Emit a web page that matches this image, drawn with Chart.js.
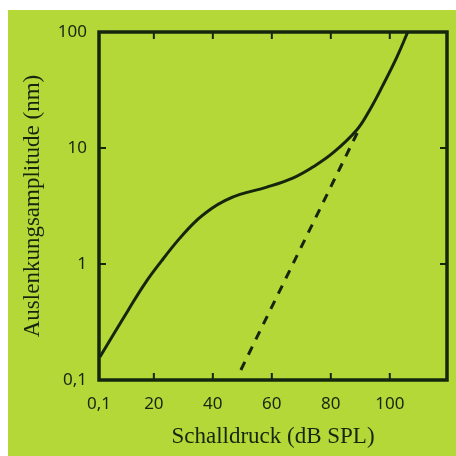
<!DOCTYPE html>
<html>
<head>
<meta charset="utf-8">
<script src="https://cdn.jsdelivr.net/npm/chart.js@4.4.0/dist/chart.umd.min.js"></script>
<style>
  html, body { margin: 0; padding: 0; background: #ffffff; }
  #wrap { width: 456px; height: 456px; position: relative; }
</style>
</head>
<body>
<div id="wrap"><canvas id="c" width="456" height="456"></canvas></div>
<script>
// --- data ---
const soundLevel = [1.7, 6.8, 11.2, 16.9, 22.7, 28.1, 33.9, 39.7, 44.1, 49.2, 58.3, 67.1, 73.9, 80.7, 88.8, 93.2, 97.6, 102.4, 106.1];
const amplitude  = [0.158, 0.259, 0.396, 0.675, 1.07, 1.59, 2.30, 3.02, 3.52, 3.98, 4.6, 5.5, 6.85, 9.06, 14.3, 21.3, 34.5, 60.8, 100];
const linearLevel = [49.5, 89.8];
const linearAmplitude = [0.122, 14.9];
const xTicks = [1.4, 20, 40, 60, 80, 100];
const xTickLabels = ['0,1', '20', '40', '60', '80', '100'];
const yTicks = [0.1, 1, 10, 100];
const yTickLabels = ['0,1', '1', '10', '100'];
const xTitle = 'Schalldruck (dB SPL)';
const yTitle = 'Auslenkungsamplitude (nm)';

const GREEN = '#b4d838';
const INK = '#15260f';

const bgPlugin = {
  id: 'bg',
  beforeDraw(chart) {
    const ctx = chart.ctx;
    ctx.save();
    ctx.fillStyle = '#ffffff';
    ctx.fillRect(0, 0, chart.width, chart.height);
    ctx.fillStyle = GREEN;
    ctx.fillRect(8, 10, chart.width - 8, chart.height - 10);
    ctx.restore();
  }
};

const framePlugin = {
  id: 'frame',
  afterDatasetsDraw(chart) {
    const ctx = chart.ctx;
    const a = chart.chartArea;
    const xs = chart.scales.x, ys = chart.scales.y;
    ctx.save();
    ctx.strokeStyle = INK;
    ctx.lineWidth = 2;
    const L = 7;
    xs.ticks.forEach((t, i) => {
      if (i === 0) return;
      const px = xs.getPixelForValue(t.value);
      ctx.beginPath();
      ctx.moveTo(px, a.bottom); ctx.lineTo(px, a.bottom - L);
      ctx.moveTo(px, a.top); ctx.lineTo(px, a.top + L);
      ctx.stroke();
    });
    ys.ticks.forEach((t, i) => {
      if (i === 0 || i === ys.ticks.length - 1) return;
      const py = ys.getPixelForValue(t.value);
      ctx.beginPath();
      ctx.moveTo(a.left, py); ctx.lineTo(a.left + L, py);
      ctx.moveTo(a.right, py); ctx.lineTo(a.right - L, py);
      ctx.stroke();
    });
    ctx.lineWidth = 3.5;
    ctx.strokeRect(a.left, a.top, a.right - a.left, a.bottom - a.top);
    ctx.restore();
  }
};

new Chart(document.getElementById('c'), {
  type: 'line',
  data: {
    datasets: [
      {
        data: soundLevel.map((v, i) => ({ x: v, y: amplitude[i] })),
        borderColor: INK,
        borderWidth: 3,
        pointRadius: 0,
        tension: 0.4,
        fill: false
      },
      {
        data: linearLevel.map((v, i) => ({ x: v, y: linearAmplitude[i] })),
        borderColor: INK,
        borderWidth: 3,
        borderDash: [9, 8],
        pointRadius: 0,
        fill: false
      }
    ]
  },
  options: {
    responsive: false,
    animation: false,
    devicePixelRatio: 1,
    layout: { padding: { top: 32, right: 9, left: 0, bottom: 0 } },
    plugins: { legend: { display: false }, tooltip: { enabled: false } },
    scales: {
      x: {
        type: 'linear',
        min: xTicks[0],
        max: 119.4,
        afterBuildTicks(s) { s.ticks = xTicks.map(v => ({ value: v })); },
        afterFit(s) { s.height = 76; s.paddingLeft = 0; s.paddingRight = 0; },
        grid: { display: false, drawTicks: false },
        border: { display: false },
        ticks: {
          padding: 14,
          color: INK,
          font: { family: 'Noto Sans', size: 17 },
          maxRotation: 0,
          callback: (v, i) => xTickLabels[i]
        },
        title: {
          display: true,
          text: xTitle,
          color: INK,
          font: { family: 'Liberation Serif', size: 23 },
          padding: { top: 0, bottom: 5 }
        }
      },
      y: {
        type: 'logarithmic',
        min: 0.1,
        max: 100,
        afterBuildTicks(s) { s.ticks = yTicks.map(v => ({ value: v })); },
        afterFit(s) { s.width = 99; s.paddingTop = 0; s.paddingBottom = 0; },
        grid: { display: false, drawTicks: false },
        border: { display: false },
        ticks: {
          padding: 12,
          color: INK,
          font: { family: 'Noto Sans', size: 17 },
          callback: (v, i) => yTickLabels[i]
        },
        title: {
          display: true,
          text: yTitle,
          color: INK,
          font: { family: 'Liberation Serif', size: 23 },
          padding: { top: 19, bottom: 0 }
        }
      }
    }
  },
  plugins: [bgPlugin, framePlugin]
});
</script>
</body>
</html>
